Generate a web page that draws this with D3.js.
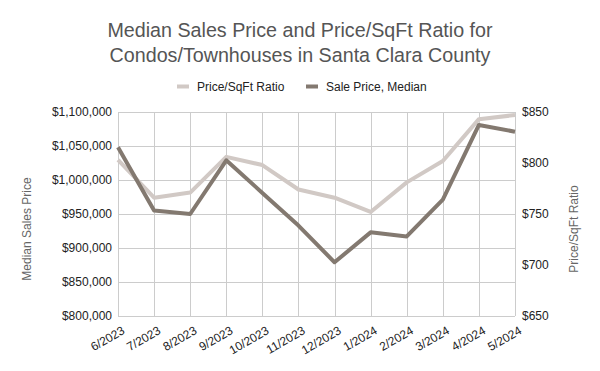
<!DOCTYPE html>
<html>
<head>
<meta charset="utf-8">
<script src="https://cdn.jsdelivr.net/npm/d3@7"></script>
<style>
  body { margin: 0; background: #fff; }
  text { font-family: "Liberation Sans", Arial, sans-serif; }
</style>
</head>
<body>
<svg id="chart" width="600" height="371"></svg>
<script>
const months = ["6/2023", "7/2023", "8/2023", "9/2023", "10/2023", "11/2023",
  "12/2023", "1/2024", "2/2024", "3/2024", "4/2024", "5/2024"];
const salePrice = [1048000, 955000, 950000, 1029000, 981000, 933000,
  879000, 923000, 917000, 971000, 1081000, 1071000];
const priceSqft = [803, 766, 771, 806, 798, 774, 766, 752, 781, 802, 843, 847];
const leftTicks = [800000, 850000, 900000, 950000, 1000000, 1050000, 1100000];
const rightTicks = [650, 700, 750, 800, 850];

const svg = d3.select("#chart");
const margin = { top: 112, left: 118, right: 85, bottom: 55 };
const width = 600 - margin.left - margin.right,
  height = 371 - margin.top - margin.bottom;

const lightColor = "#d1c9c5";
const darkColor = "#837970";
const font = "Liberation Sans, Arial, sans-serif";

const x = d3.scalePoint().domain(months).range([0, width]);
const yLeft = d3.scaleLinear().domain([800000, 1100000]).range([height, 0]);
const yRight = d3.scaleLinear().domain([650, 850]).range([height, 0]);

// title
svg.append("text")
  .attr("x", 300).attr("y", 37)
  .attr("text-anchor", "middle")
  .style("font-size", "19.7px").style("fill", "#555")
  .text("Median Sales Price and Price/SqFt Ratio for");
svg.append("text")
  .attr("x", 300).attr("y", 62)
  .attr("text-anchor", "middle")
  .style("font-size", "19.7px").style("fill", "#555")
  .text("Condos/Townhouses in Santa Clara County");

// legend
const legend = [
  { label: "Price/SqFt Ratio", color: lightColor, x: 177 },
  { label: "Sale Price, Median", color: darkColor, x: 306 }
];
legend.forEach(d => {
  svg.append("rect")
    .attr("x", d.x).attr("y", 84.5)
    .attr("width", 12).attr("height", 4)
    .style("fill", d.color);
  svg.append("text")
    .attr("x", d.x + 20).attr("y", 90.5)
    .style("font-size", "12px").style("fill", "#222")
    .text(d.label);
});

const g = svg.append("g").attr("transform", `translate(${margin.left},${margin.top})`);

// gridlines
g.selectAll(".hgrid").data(leftTicks).enter().append("line")
  .attr("x1", 0).attr("x2", width)
  .attr("y1", d => yLeft(d) + 0.5).attr("y2", d => yLeft(d) + 0.5)
  .style("stroke", "#cccccc");
g.selectAll(".vgrid").data(months).enter().append("line")
  .attr("x1", d => Math.round(x(d)) + 0.5).attr("x2", d => Math.round(x(d)) + 0.5)
  .attr("y1", 0).attr("y2", height)
  .style("stroke", "#cccccc");

// left axis
const leftAxis = g.append("g")
  .call(d3.axisLeft(yLeft).tickValues(leftTicks).tickFormat(d3.format("$,")).tickSize(0).tickPadding(6));
leftAxis.select(".domain").remove();
leftAxis.selectAll("text").style("font-size", "12px").style("fill", "#222")
  .style("font-family", font);

// right axis
const rightAxis = g.append("g").attr("transform", `translate(${width},0)`)
  .call(d3.axisRight(yRight).tickValues(rightTicks).tickFormat(d3.format("$")).tickSize(0).tickPadding(7));
rightAxis.select(".domain").remove();
rightAxis.selectAll("text").style("font-size", "12px").style("fill", "#222")
  .style("font-family", font);

// bottom axis
const bottomAxis = g.append("g").attr("transform", `translate(0,${height})`)
  .call(d3.axisBottom(x).tickSize(0).tickPadding(0));
bottomAxis.select(".domain").remove();
bottomAxis.selectAll("text")
  .style("font-size", "12px").style("fill", "#222")
  .style("font-family", font)
  .attr("text-anchor", "end")
  .attr("dy", 0)
  .attr("transform", "translate(7,17) rotate(-30)");

// axis titles
svg.append("text")
  .attr("transform", "translate(31,229) rotate(-90)")
  .attr("text-anchor", "middle")
  .style("font-size", "12px").style("fill", "#666")
  .text("Median Sales Price");
svg.append("text")
  .attr("transform", "translate(578,229) rotate(-90)")
  .attr("text-anchor", "middle")
  .style("font-size", "12px").style("fill", "#666")
  .text("Price/SqFt Ratio");

// lines
const lineSqft = d3.line().x((d, i) => x(months[i])).y(d => yRight(d));
const linePrice = d3.line().x((d, i) => x(months[i])).y(d => yLeft(d));

g.append("path").datum(priceSqft)
  .attr("d", lineSqft)
  .style("fill", "none").style("stroke", lightColor).style("stroke-width", 4)
  .style("stroke-linejoin", "round");
g.append("path").datum(salePrice)
  .attr("d", linePrice)
  .style("fill", "none").style("stroke", darkColor).style("stroke-width", 4)
  .style("stroke-linejoin", "round");
</script>
</body>
</html>
